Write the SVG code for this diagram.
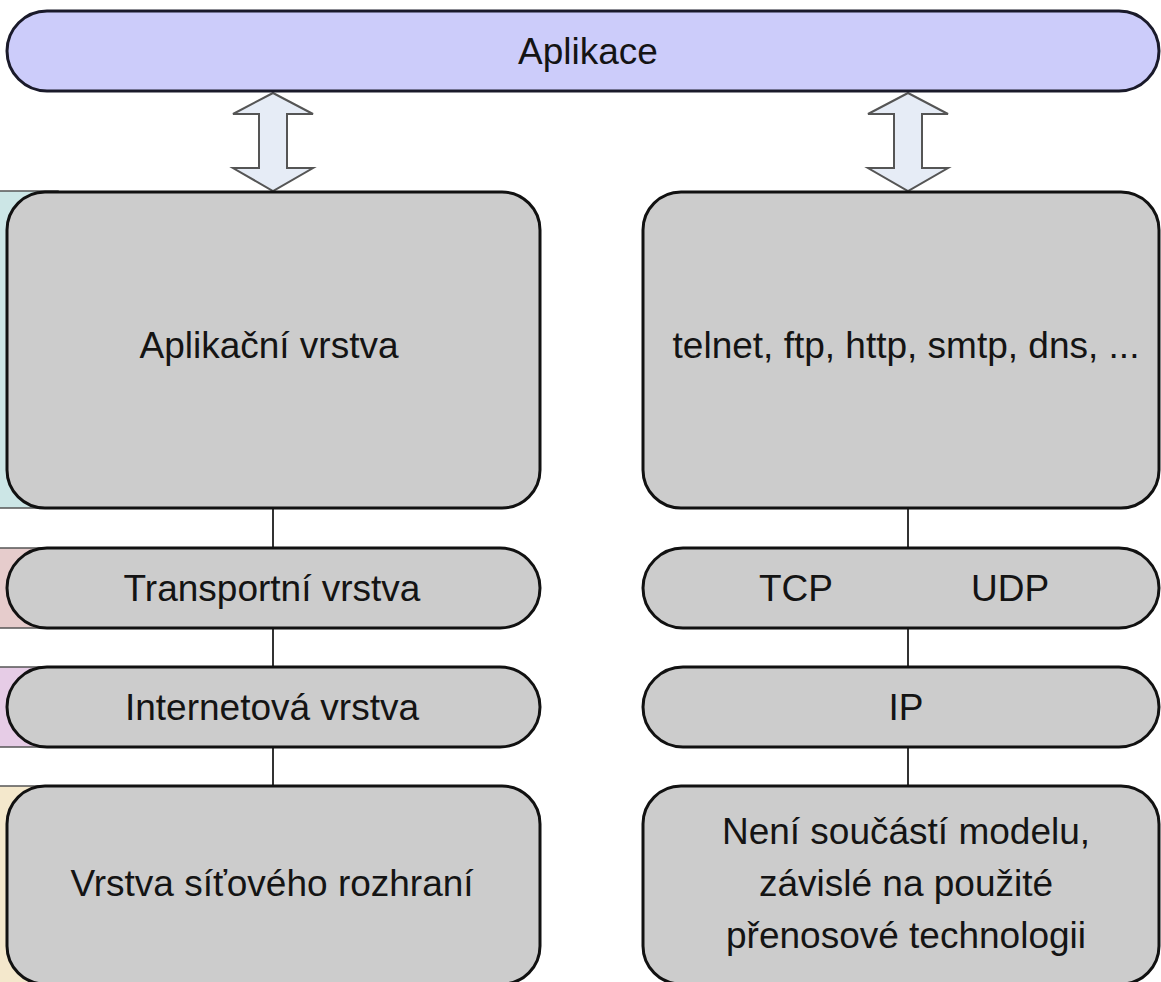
<svg xmlns="http://www.w3.org/2000/svg" width="1161" height="982" viewBox="0 0 1161 982">
  <style>
    .box { fill: #cccccc; stroke: #111111; stroke-width: 3; }
    .top { fill: #ccccfa; stroke: #1a1a2a; stroke-width: 3; }
    .lbl { font-family: "Liberation Sans", Arial, sans-serif; font-size: 37px; fill: #141414; text-anchor: middle; }
    .link { stroke: #333333; stroke-width: 2; fill: none; }
    .arrow { fill: #e6ecf6; stroke: #555555; stroke-width: 2; stroke-linejoin: miter; }
    .strip { stroke: #555555; stroke-width: 1.5; }
  </style>

  <rect width="1161" height="982" fill="#ffffff"/>

  <!-- coloured side strips behind the left column -->
  <g id="strips">
    <rect class="strip" x="-2" y="191" width="60" height="317" fill="#cce6e6"/>
    <rect class="strip" x="-2" y="548" width="60" height="80" fill="#e6cccc"/>
    <rect class="strip" x="-2" y="667" width="60" height="80" fill="#e6cce6"/>
    <rect class="strip" x="-2" y="786" width="60" height="200" fill="#f4e8cc"/>
  </g>

  <!-- connectors -->
  <g id="connectors">
    <line class="link" x1="273" y1="508" x2="273" y2="548"/>
    <line class="link" x1="273" y1="628" x2="273" y2="667"/>
    <line class="link" x1="273" y1="747" x2="273" y2="786"/>
    <line class="link" x1="908" y1="508" x2="908" y2="548"/>
    <line class="link" x1="908" y1="628" x2="908" y2="667"/>
    <line class="link" x1="908" y1="747" x2="908" y2="786"/>
    <polygon class="arrow" points="273,93 313,114 287,114 287,168 313,168 273,191 233,168 259,168 259,114 233,114"/>
    <polygon class="arrow" points="908,93 948,114 922,114 922,168 948,168 908,191 868,168 894,168 894,114 868,114"/>
  </g>

  <g id="aplikace">
    <rect class="top" x="7" y="11" width="1152" height="80" rx="40" ry="40"/>
    <text class="lbl" x="588" y="64">Aplikace</text>
  </g>

  <g id="aplikacni-vrstva">
    <rect class="box" x="7" y="192" width="533" height="316" rx="38" ry="38"/>
    <text class="lbl" x="269" y="358">Aplikační vrstva</text>
  </g>

  <g id="transportni-vrstva">
    <rect class="box" x="7" y="548" width="533" height="80" rx="40" ry="40"/>
    <text class="lbl" x="272" y="601">Transportní vrstva</text>
  </g>

  <g id="internetova-vrstva">
    <rect class="box" x="7" y="667" width="533" height="80" rx="40" ry="40"/>
    <text class="lbl" x="272" y="720">Internetová vrstva</text>
  </g>

  <g id="vrstva-sitoveho-rozhrani">
    <rect class="box" x="7" y="786" width="533" height="198" rx="38" ry="38"/>
    <text class="lbl" x="272" y="896">Vrstva síťového rozhraní</text>
  </g>

  <g id="protokoly">
    <rect class="box" x="643" y="192" width="516" height="316" rx="38" ry="38"/>
    <text class="lbl" x="906" y="358">telnet, ftp, http, smtp, dns, ...</text>
  </g>

  <g id="tcp-udp">
    <rect class="box" x="643" y="548" width="516" height="80" rx="40" ry="40"/>
    <text class="lbl" x="796" y="601">TCP</text>
    <text class="lbl" x="1010" y="601">UDP</text>
  </g>

  <g id="ip">
    <rect class="box" x="643" y="667" width="516" height="80" rx="40" ry="40"/>
    <text class="lbl" x="906" y="720">IP</text>
  </g>

  <g id="technologie">
    <rect class="box" x="643" y="786" width="516" height="198" rx="38" ry="38"/>
    <text class="lbl" x="906" y="844">Není součástí modelu,</text>
    <text class="lbl" x="906" y="896">závislé na použité</text>
    <text class="lbl" x="906" y="948">přenosové technologii</text>
  </g>
</svg>
